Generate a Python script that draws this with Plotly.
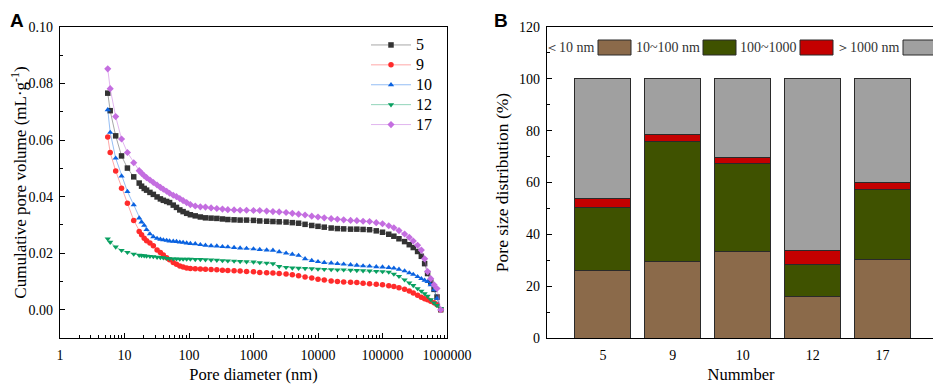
import plotly.graph_objects as go

# ---------------- Data: panel A ----------------
pore_diameter_nm = [5.5, 6.0, 7.3, 9.0, 11.1, 13.9, 16.9, 18.4, 20.2, 22, 24.8, 28, 32, 36, 40, 45, 50, 57, 64, 72,
                    81, 92, 105, 125, 150, 180, 220, 270, 330, 400, 500, 620, 780, 1000, 1250, 1600, 2000, 2500,
                    3200, 4000, 5000, 6300, 8000, 10000, 12500, 16000, 20000, 25000, 32000, 40000, 50000, 63000,
                    80000, 100000, 125000, 150000, 180000, 220000, 260000, 300000, 350000, 400000, 450000, 500000,
                    560000, 630000, 700000, 800000]

vol_5 = [0.0766, 0.0704, 0.0615, 0.0544, 0.0501, 0.0470, 0.0448, 0.0437, 0.0429, 0.0423, 0.0415, 0.0408, 0.0399,
         0.0392, 0.0387, 0.0383, 0.0379, 0.0370, 0.0362, 0.0353, 0.0347, 0.0341, 0.0336, 0.0332, 0.0328, 0.0325,
         0.0324, 0.0323, 0.0321, 0.0319, 0.0318, 0.0317, 0.0317, 0.0316, 0.0314, 0.0313, 0.0312, 0.0311, 0.0310,
         0.0308, 0.0306, 0.0302, 0.0298, 0.0295, 0.0292, 0.0289, 0.0287, 0.0286, 0.0285, 0.0285, 0.0284, 0.0283,
         0.0279, 0.0274, 0.0267, 0.0260, 0.0251, 0.0241, 0.0230, 0.0220, 0.0206, 0.0189, 0.0163, 0.0128, 0.0098,
         0.0072, 0.0045, 0.0000]

vol_9 = [0.0611, 0.0556, 0.0491, 0.0430, 0.0377, 0.0316, 0.0277, 0.0265, 0.0253, 0.0244, 0.0236, 0.0226, 0.0211,
         0.0202, 0.0194, 0.0184, 0.0177, 0.0167, 0.0161, 0.0155, 0.0151, 0.0148, 0.0146, 0.0145, 0.0144, 0.0143,
         0.0142, 0.0141, 0.0140, 0.0139, 0.0138, 0.0137, 0.0135, 0.0134, 0.0132, 0.0131, 0.0130, 0.0128, 0.0126,
         0.0124, 0.0120, 0.0116, 0.0112, 0.0108, 0.0105, 0.0102, 0.0100, 0.0098, 0.0097, 0.0096, 0.0094, 0.0092,
         0.0090, 0.0088, 0.0085, 0.0082, 0.0078, 0.0072, 0.0066, 0.0059, 0.0051, 0.0044, 0.0039, 0.0035, 0.0030,
         0.0025, 0.0018, 0.0000]

vol_10 = [0.0707, 0.0627, 0.0536, 0.0473, 0.0418, 0.0371, 0.0324, 0.0310, 0.0298, 0.0283, 0.0268, 0.0258, 0.0252,
          0.0249, 0.0247, 0.0245, 0.0243, 0.0242, 0.0241, 0.0239, 0.0238, 0.0236, 0.0234, 0.0233, 0.0230, 0.0228,
          0.0226, 0.0225, 0.0223, 0.0222, 0.0220, 0.0218, 0.0217, 0.0215, 0.0213, 0.0211, 0.0210, 0.0205, 0.0200,
          0.0196, 0.0192, 0.0180, 0.0174, 0.0170, 0.0167, 0.0165, 0.0163, 0.0161, 0.0159, 0.0157, 0.0155, 0.0154,
          0.0152, 0.0151, 0.0149, 0.0147, 0.0143, 0.0137, 0.0130, 0.0125, 0.0117, 0.0110, 0.0104, 0.0099, 0.0088,
          0.0070, 0.0040, 0.0000]

vol_12 = [0.0251, 0.0239, 0.0222, 0.0210, 0.0203, 0.0197, 0.0193, 0.0192, 0.0191, 0.0190, 0.0189, 0.0188, 0.0186,
          0.0185, 0.0184, 0.0182, 0.0181, 0.0180, 0.0180, 0.0179, 0.0179, 0.0179, 0.0179, 0.0178, 0.0178, 0.0177,
          0.0176, 0.0175, 0.0174, 0.0173, 0.0172, 0.0171, 0.0170, 0.0169, 0.0167, 0.0165, 0.0163, 0.0153, 0.0150,
          0.0148, 0.0147, 0.0146, 0.0145, 0.0144, 0.0143, 0.0142, 0.0141, 0.0141, 0.0140, 0.0139, 0.0138, 0.0137,
          0.0136, 0.0135, 0.0133, 0.0126, 0.0118, 0.0106, 0.0095, 0.0086, 0.0075, 0.0066, 0.0057, 0.0048, 0.0036,
          0.0024, 0.0015, 0.0005]

vol_17 = [0.0852, 0.0782, 0.0683, 0.0604, 0.0556, 0.0520, 0.0492, 0.0483, 0.0474, 0.0467, 0.0459, 0.0450, 0.0441,
          0.0433, 0.0426, 0.0419, 0.0412, 0.0405, 0.0400, 0.0393, 0.0386, 0.0379, 0.0372, 0.0367, 0.0364, 0.0363,
          0.0360, 0.0358, 0.0356, 0.0354, 0.0353, 0.0352, 0.0352, 0.0351, 0.0351, 0.0349, 0.0347, 0.0346, 0.0344,
          0.0341, 0.0338, 0.0335, 0.0331, 0.0328, 0.0325, 0.0322, 0.0320, 0.0318, 0.0316, 0.0315, 0.0313, 0.0312,
          0.0308, 0.0304, 0.0297, 0.0290, 0.0280, 0.0268, 0.0256, 0.0243, 0.0228, 0.0211, 0.0180, 0.0135, 0.0110,
          0.0088, 0.0075, 0.0000]

series_names = ["5", "9", "10", "12", "17"]

x_tick_vals = [1, 10, 100, 1000, 10000, 100000, 1000000]
x_tick_text = ["1", "10", "100", "1000", "10000", "100000", "1000000"]

# ---------------- Data: panel B ----------------
samples = ["5", "9", "10", "12", "17"]
pct_lt10 = [26.1, 29.5, 33.2, 15.9, 30.1]
pct_10_100 = [24.1, 46.3, 34.2, 12.6, 27.3]
pct_100_1000 = [3.6, 2.9, 2.3, 5.2, 2.6]
pct_gt1000 = [46.2, 21.3, 30.3, 66.3, 40.0]
class_labels = ["＜10 nm", "10~100 nm", "100~1000", "＞1000 nm"]

# ---------------- Styling ----------------
W, H = 941, 388
OFF = 8  # page body margin offset
SERIF = "Liberation Serif"
line_styles = [
    ("#333333", "rgba(60,60,60,0.45)", "square"),
    ("#ff2b2b", "rgba(255,60,60,0.45)", "circle"),
    ("#0a62e0", "rgba(20,110,230,0.45)", "triangle-up"),
    ("#08a060", "rgba(10,160,100,0.45)", "triangle-down"),
    ("#c46ee0", "rgba(196,110,224,0.5)", "diamond"),
]
bar_colors = ["#8b6a4a", "#3f5200", "#c40000", "#a0a0a0"]

fig = go.Figure()

all_vols = [vol_5, vol_9, vol_10, vol_12, vol_17]
for name, vols, (mc, lc, sym) in zip(series_names, all_vols, line_styles):
    fig.add_trace(go.Scatter(
        x=pore_diameter_nm, y=vols, name=f'<span style="font-size:16px">{name}</span>',
        mode="lines+markers",
        line=dict(color=lc, width=1),
        marker=dict(color=mc, symbol=sym, size=5.5, line=dict(width=0)),
        xaxis="x", yaxis="y", showlegend=True,
    ))

bar_sets = [pct_lt10, pct_10_100, pct_100_1000, pct_gt1000]
for label, vals, col in zip(class_labels, bar_sets, bar_colors):
    fig.add_trace(go.Bar(
        x=samples, y=vals, name=label, marker=dict(color=col, line=dict(color="#2a2a2a", width=1)),
        xaxis="x2", yaxis="y2", showlegend=False,
    ))

def px(x):
    return (x - OFF) / W

def py(y):
    return 1 - (y - OFF) / H

ydom = [py(338), py(27)]
axis_common = dict(showline=True, linecolor="black", linewidth=1.2, mirror=True, showgrid=False,
                   zeroline=False, ticks="inside", tickcolor="black", ticklen=5, tickwidth=1,
                   automargin=False,
                   tickfont=dict(family=SERIF, size=14, color="black"))

minor_log = [m * 10 ** e for e in range(6) for m in range(2, 10)]

fig.update_layout(
    width=W, height=H,
    margin=dict(l=0, r=0, t=0, b=0, autoexpand=False),
    paper_bgcolor="white", plot_bgcolor="white",
    barmode="stack", bargap=0.2,
    font=dict(family=SERIF, size=14, color="black"),
    xaxis=dict(axis_common, domain=[px(60), px(447)], type="log", range=[0, 6],
               tickvals=x_tick_vals, ticktext=x_tick_text, ticklabelstandoff=4,
               minor=dict(tickvals=minor_log, ticks="inside", ticklen=3, tickcolor="black"),
               title=dict(text="Pore diameter (nm)", font=dict(family=SERIF, size=16.5), standoff=6),
               anchor="y"),
    yaxis=dict(axis_common, domain=ydom, range=[-0.01, 0.10], tick0=0, dtick=0.02, tickformat=".2f",
               ticklabelstandoff=3,
               minor=dict(dtick=0.01, ticks="inside", ticklen=3, tickcolor="black"),
               title=dict(text="Cumulative pore volume (mL·g<sup>-1</sup>)", font=dict(family=SERIF, size=17),
                          standoff=3),
               anchor="x"),
    xaxis2=dict(axis_common, domain=[px(547), px(935)], type="category", range=[-0.8, 4.75], ticks="",
                ticklabelstandoff=4,
                title=dict(text="Nummber", font=dict(family=SERIF, size=16.5), standoff=6),
                anchor="y2"),
    yaxis2=dict(axis_common, domain=ydom, range=[0, 120], tick0=0, dtick=20, ticklabelstandoff=3,
                minor=dict(dtick=10, ticks="inside", ticklen=3, tickcolor="black"),
                title=dict(text="Pore size distribution (%)", font=dict(family=SERIF, size=17.5), standoff=5),
                anchor="x2"),
    legend=dict(x=px(366), y=py(30), xanchor="left", yanchor="top", bgcolor="rgba(0,0,0,0)",
                font=dict(family=SERIF, size=13), tracegroupgap=0, itemwidth=40, traceorder="normal"),
)

# Panel letters
fig.add_annotation(text="<b>A</b>", x=0, y=1, xref="paper", yref="paper", xanchor="left",
                   yanchor="top", showarrow=False,
                   font=dict(family="Liberation Sans", size=19, color="black"))
fig.add_annotation(text="<b>B</b>", x=px(492), y=1, xref="paper", yref="paper", xanchor="left",
                   yanchor="top", showarrow=False,
                   font=dict(family="Liberation Sans", size=19, color="black"))

# Panel B legend (text followed by swatch)
swatch_left = [598, 703, 800, 903]
sw_w = 33
for label, col, sx in zip(class_labels, bar_colors, swatch_left):
    fig.add_shape(type="rect", xref="paper", yref="paper", x0=px(sx), x1=px(sx + sw_w), y0=py(55), y1=py(40),
                  fillcolor=col, line=dict(color="#2a2a2a", width=1))
    fig.add_annotation(text=label, x=px(sx - 1), y=py(47.5), xref="paper", yref="paper", xanchor="right",
                       yanchor="middle", showarrow=False, font=dict(family=SERIF, size=14, color="#333333"))

fig.write_html("out.html")
